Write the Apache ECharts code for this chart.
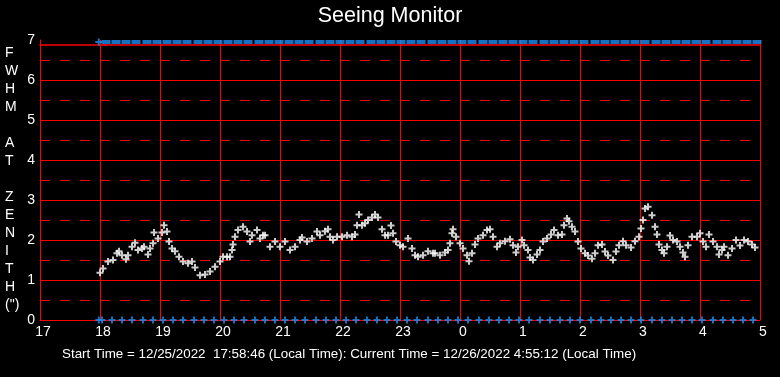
<!DOCTYPE html>
<html>
<head>
<meta charset="utf-8">
<title>Seeing Monitor</title>
<style>
    html, body { margin: 0; padding: 0; background: #000; }
    #chart { width: 780px; height: 377px; }
</style>
<script src="https://cdn.jsdelivr.net/npm/echarts@6/dist/echarts.min.js"></script>
</head>
<body>
<div id="chart"></div>
<script>
// times are minutes after 17:00 local
const startMinute = 58.77  // 17:58:46

const seeingMinutes = [
    60, 63, 68, 73, 77, 79, 82, 86, 88, 92, 95, 98, 102, 104, 108, 110, 113, 114, 118, 122,
    124, 127, 129, 132, 135, 139, 143, 148, 152, 155, 160, 165, 170, 175, 180, 183, 187, 190, 192, 193,
    195, 198, 203, 207, 210, 212, 217, 220, 223, 225, 230, 235, 240, 245, 250, 255, 260, 262, 267, 272,
    277, 280, 285, 288, 290, 293, 297, 302, 307, 312, 315, 317, 319, 322, 325, 328, 332, 335, 338, 342,
    345, 348, 351, 353, 356, 360, 363, 368, 372, 375, 378, 383, 388, 393, 395, 400, 405, 408, 410, 412,
    413, 416, 420, 423, 427, 429, 432, 435, 438, 443, 447, 450, 453, 457, 460, 465, 470, 473, 476, 478,
    482, 484, 488, 490, 493, 497, 500, 503, 507, 511, 514, 518, 522, 524, 527, 529, 532, 535, 538, 541,
    545, 548, 552, 555, 558, 562, 565, 568, 573, 576, 579, 583, 586, 591, 595, 599, 601, 603, 605, 608,
    612, 615, 617, 619, 622, 624, 627, 630, 633, 637, 640, 643, 645, 648, 652, 657, 660, 663, 666, 669,
    673, 677, 679, 682, 684, 688, 692, 696, 700, 704, 708, 712, 715
]
const seeingValues = [
    1.18, 1.29, 1.46, 1.50, 1.67, 1.72, 1.62, 1.52, 1.62, 1.83, 1.93, 1.75, 1.79, 1.83, 1.64, 1.79, 1.92, 2.19, 2.04, 2.19,
    2.37, 2.21, 1.96, 1.79, 1.72, 1.58, 1.46, 1.42, 1.46, 1.31, 1.12, 1.14, 1.21, 1.33, 1.46, 1.58, 1.58, 1.58, 1.75, 1.89,
    2.08, 2.25, 2.33, 2.21, 1.96, 2.12, 2.25, 2.04, 2.12, 2.12, 1.83, 1.96, 1.83, 1.96, 1.75, 1.83, 2.00, 2.06, 1.96, 2.04,
    2.21, 2.12, 2.22, 2.27, 2.08, 2.00, 2.08, 2.08, 2.12, 2.08, 2.14, 2.37, 2.64, 2.37, 2.42, 2.50, 2.56, 2.64, 2.56, 2.27,
    2.12, 2.12, 2.36, 2.17, 1.96, 1.87, 1.83, 2.04, 1.79, 1.62, 1.58, 1.62, 1.72, 1.67, 1.67, 1.62, 1.69, 1.75, 1.92, 2.17,
    2.27, 2.08, 1.92, 1.79, 1.62, 1.47, 1.67, 1.89, 2.04, 2.12, 2.25, 2.27, 2.08, 1.83, 1.92, 1.97, 2.02, 1.87, 1.69, 1.83,
    2.00, 1.87, 1.75, 1.56, 1.50, 1.64, 1.75, 1.96, 2.04, 2.14, 2.25, 2.12, 2.14, 2.37, 2.54, 2.47, 2.33, 2.21, 1.96, 1.79,
    1.67, 1.61, 1.53, 1.67, 1.87, 1.89, 1.71, 1.61, 1.50, 1.71, 1.87, 1.97, 1.87, 1.81, 1.97, 2.08, 2.29, 2.50, 2.79, 2.83,
    2.62, 2.33, 2.14, 1.89, 1.75, 1.67, 1.83, 2.11, 2.00, 1.96, 1.83, 1.69, 1.58, 1.87, 2.08, 2.08, 2.17, 1.96, 1.83, 2.14,
    1.96, 1.83, 1.64, 1.75, 1.83, 1.62, 1.79, 2.00, 1.86, 2.00, 1.96, 1.89, 1.81
]

// image timestamps shown as blue markers along the top and bottom
const frameMinutes = [
    62, 72, 82, 92, 103, 113, 123, 133, 143, 154, 164, 174, 184, 194, 204, 215, 225, 235, 245, 255,
    265, 276, 286, 296, 306, 316, 327, 337, 347, 357, 367, 377, 388, 398, 408, 418, 428, 439, 449, 459,
    469, 479, 489, 500, 510, 520, 530, 540, 551, 561, 571, 581, 591, 601, 612, 622, 632, 642, 652, 662,
    673, 683, 693, 703, 713
]

const yMax = 7

const toHour = m => 17 + m / 60
const plus = 'path://M2.5,0H4.5V2.5H7V4.5H4.5V7H2.5V4.5H0V2.5H2.5Z'
const RED = '#ff0000'
const BLUE = '#1e8cf0'
const FONT = 'Liberation Sans, Arial, sans-serif'

const seeingData = seeingMinutes.map((m, i) => [toHour(m), seeingValues[i]])
const bottomData = [startMinute].concat(frameMinutes).map(m => [toHour(m), 0])
const topData = frameMinutes.map(m => [toHour(m), yMax])

const chart = echarts.init(document.getElementById('chart'), null, { renderer: 'canvas' })

chart.setOption({
    backgroundColor: '#000',
    animation: false,
    title: [
        {
            text: 'Seeing Monitor',
            left: 'center',
            top: 5,
            padding: 0,
            textStyle: { color: '#fff', fontSize: 21.5, fontWeight: 'normal', fontFamily: FONT },
        },
        {
            text: 'Start Time = 12/25/2022  17:58:46 (Local Time): Current Time = 12/26/2022 4:55:12 (Local Time)',
            left: 62,
            top: 348,
            padding: 0,
            textStyle: { color: '#fff', fontSize: 13.4, fontWeight: 'normal', fontFamily: FONT },
        },
    ],
    graphic: [
        {
            type: 'text',
            left: 5,
            top: 44,
            style: {
                text: 'F\nW\nH\nM\n\nA\nT\n\nZ\nE\nN\nI\nT\nH\n(")',
                fill: '#fff',
                font: '14px "Liberation Sans", Arial, sans-serif',
                lineHeight: 18,
                align: 'center',
                width: 14,
            },
        },
    ],
    grid: { left: 40, right: 20, top: 40, bottom: 57, containLabel: false },
    xAxis: [
        {
            type: 'value',
            min: 17,
            max: 29,
            interval: 1,
            axisLine: { show: true, onZero: false, lineStyle: { color: RED, width: 1 } },
            axisTick: { show: false },
            axisLabel: {
                color: '#fff',
                fontSize: 14,
                fontFamily: FONT,
                margin: 5,
                padding: [0, 0, 0, 6],
                formatter: v => String(Math.round(v) % 24),
            },
            splitLine: { show: true, lineStyle: { color: RED, width: 1 } },
        },
        {
            // top edge of the plot frame, a little below the 7 line
            type: 'value',
            position: 'top',
            offset: -5,
            min: 17,
            max: 29,
            interval: 1,
            axisLine: { show: true, onZero: false, lineStyle: { color: RED, width: 1.5 } },
            axisTick: { show: false },
            axisLabel: { show: false },
            splitLine: { show: false },
        },
    ],
    yAxis: {
        type: 'value',
        min: 0,
        max: yMax,
        interval: 1,
        axisLine: { show: true, lineStyle: { color: RED, width: 1 } },
        axisTick: { show: false },
        axisLabel: { color: '#fff', fontSize: 14, fontFamily: FONT, margin: 5 },
        splitLine: { show: true, showMaxLine: false, lineStyle: { color: RED, width: 1 } },
        minorTick: { show: false, splitNumber: 2 },
        minorSplitLine: { show: true, lineStyle: { color: RED, width: 1, type: [10, 10] } },
    },
    series: [
        {
            name: 'FWHM',
            type: 'scatter',
            symbol: plus,
            symbolSize: 7,
            itemStyle: { color: '#fff' },
            data: seeingData,
            z: 5,
        },
        {
            name: 'bottom frames',
            type: 'scatter',
            symbol: plus,
            symbolSize: 7,
            clip: false,
            itemStyle: { color: BLUE },
            data: bottomData,
            z: 6,
        },
        {
            name: 'top frames',
            type: 'scatter',
            symbol: 'rect',
            symbolSize: [9, 4],
            symbolOffset: [4, 2],
            clip: false,
            itemStyle: { color: BLUE },
            data: topData,
            z: 6,
        },
        {
            name: 'start',
            type: 'scatter',
            symbol: plus,
            symbolSize: 7,
            symbolOffset: [0, 2],
            clip: false,
            itemStyle: { color: BLUE },
            data: [[toHour(startMinute), yMax]],
            z: 6,
        },
    ],
})
</script>
</body>
</html>
